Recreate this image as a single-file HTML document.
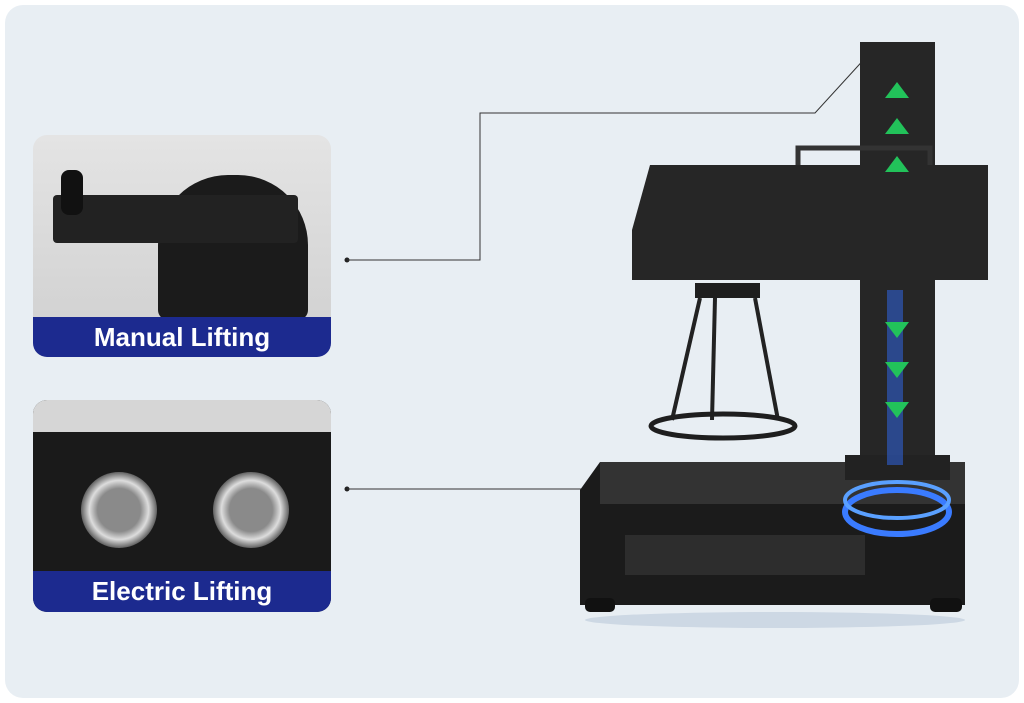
<!DOCTYPE html>
<html><head><meta charset="utf-8"><style>
body{margin:0;width:1024px;height:703px;background:#fff;position:relative;overflow:hidden;font-family:"Liberation Sans",sans-serif}
.bg{position:absolute;left:5px;top:5px;width:1014px;height:693px;background:#e8eef3;border-radius:18px}
.card{position:absolute;left:33px;width:298px;border-radius:14px;overflow:hidden}
.lab{position:absolute;left:0;bottom:0;width:100%;height:40px;background:#1c2a8f;color:#fff;font-weight:bold;font-size:26px;text-align:center;line-height:40px}
.a{position:absolute}
</style></head><body>
<div class="bg"></div>
<div class="card" style="top:135px;height:222px;background:linear-gradient(#e4e4e4,#cfcfcf)">
 <div class="a" style="left:125px;top:40px;width:150px;height:145px;background:#1b1b1b;border-radius:70px 70px 10px 10px"></div>
 <div class="a" style="left:20px;top:60px;width:245px;height:48px;background:#222;border-radius:4px"></div>
 <div class="a" style="left:28px;top:35px;width:22px;height:45px;background:#111;border-radius:8px"></div>
 <div class="lab">Manual Lifting</div>
</div>
<div class="card" style="top:400px;height:212px;background:#1a1a1a">
 <div class="a" style="left:0;top:0;width:298px;height:32px;background:#d6d6d6"></div>
 <div class="a" style="left:48px;top:72px;width:76px;height:76px;border-radius:50%;background:radial-gradient(#8a8a8a 40%,#ddd 55%,#666 70%)"></div>
 <div class="a" style="left:180px;top:72px;width:76px;height:76px;border-radius:50%;background:radial-gradient(#8a8a8a 40%,#ddd 55%,#666 70%)"></div>
 <div class="lab" style="height:41px">Electric Lifting</div>
</div>
<svg class="a" style="left:0;top:0" width="1024" height="703">
 <circle cx="347" cy="260" r="2.5" fill="#222"/><circle cx="347" cy="489" r="2.5" fill="#222"/>
 <polyline points="347,260 480,260 480,113 815,113 868,55" fill="none" stroke="#333" stroke-width="1"/>
 <line x1="347" y1="489" x2="582" y2="489" stroke="#333" stroke-width="1"/>
 <ellipse cx="775" cy="620" rx="190" ry="8" fill="#cdd8e4"/>
 <polygon points="580,490 600,462 965,462 965,605 580,605" fill="#1b1b1b"/>
 <rect x="600" y="462" width="365" height="42" fill="#333"/>
 <rect x="585" y="598" width="30" height="14" rx="5" fill="#111"/><rect x="930" y="598" width="32" height="14" rx="5" fill="#111"/>
 <rect x="625" y="535" width="240" height="40" fill="#3a3a3a" opacity=".6"/>
 <rect x="860" y="42" width="75" height="430" fill="#262626"/>
 <rect x="845" y="455" width="105" height="25" fill="#222"/>
 <ellipse cx="897" cy="512" rx="52" ry="22" fill="none" stroke="#3a7bff" stroke-width="6"/>
 <ellipse cx="897" cy="500" rx="52" ry="18" fill="none" stroke="#5aa0ff" stroke-width="4"/>
 <rect x="887" y="290" width="16" height="175" fill="#2f5fd0" opacity=".6"/>
 <rect x="798" y="148" width="132" height="20" fill="none" stroke="#333" stroke-width="5"/>
 <polygon points="650,165 988,165 988,280 632,280 632,230" fill="#262626"/>
 <rect x="695" y="283" width="65" height="15" fill="#1e1e1e"/>
 <line x1="700" y1="298" x2="672" y2="420" stroke="#222" stroke-width="4"/>
 <line x1="755" y1="298" x2="778" y2="420" stroke="#222" stroke-width="4"/>
 <line x1="715" y1="298" x2="712" y2="420" stroke="#222" stroke-width="4"/>
 <ellipse cx="723" cy="426" rx="72" ry="12" fill="none" stroke="#1e1e1e" stroke-width="5"/>
 <g fill="#22c25a">
  <polygon points="897,82 885,98 909,98"/><polygon points="897,118 885,134 909,134"/><polygon points="897,156 885,172 909,172"/>
  <polygon points="897,338 885,322 909,322"/><polygon points="897,378 885,362 909,362"/><polygon points="897,418 885,402 909,402"/>
 </g>
</svg>
</body></html>
